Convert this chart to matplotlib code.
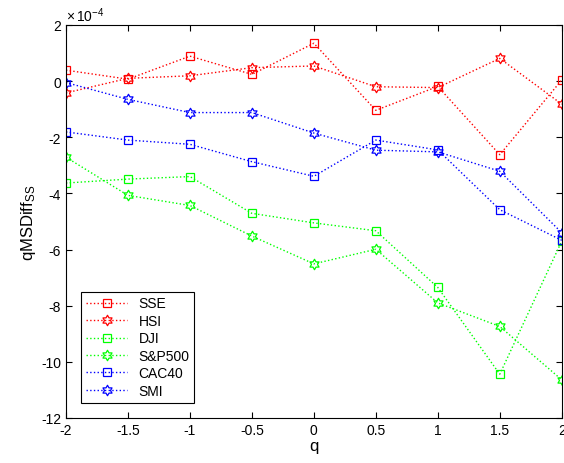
import matplotlib
matplotlib.use("Agg")
import matplotlib.pyplot as plt
import numpy as np
from matplotlib.path import Path

plt.rcParams["font.family"] = ["Liberation Sans", "DejaVu Sans"]
plt.rcParams["mathtext.fontset"] = "custom"
plt.rcParams["mathtext.rm"] = "Liberation Sans"
plt.rcParams["mathtext.it"] = "Liberation Sans"
plt.rcParams["axes.unicode_minus"] = False

q = [-2, -1.5, -1, -0.5, 0, 0.5, 1, 1.5, 2]

# values in units of 1e-4
sse = [0.39, 0.07, 0.89, 0.24, 1.35, -1.04, -0.19, -2.62, 0.04]
hsi = [-0.42, 0.10, 0.19, 0.48, 0.54, -0.20, -0.23, 0.81, -0.82]
dji = [-3.63, -3.49, -3.40, -4.71, -5.05, -5.33, -7.35, -10.44, -5.70]
sp500 = [-2.71, -4.07, -4.43, -5.52, -6.51, -5.99, -7.90, -8.74, -10.64]
cac40 = [-1.81, -2.10, -2.25, -2.87, -3.39, -2.10, -2.45, -4.58, -5.67]
smi = [-0.05, -0.65, -1.12, -1.12, -1.85, -2.46, -2.52, -3.21, -5.40]

# hexagram marker (like matlab 'h')
ang = np.pi / 2 + np.arange(12) * np.pi / 6
rad = np.where(np.arange(12) % 2 == 0, 1.0, 1 / np.sqrt(3))
verts = np.column_stack([rad * np.cos(ang), rad * np.sin(ang)])
verts = np.vstack([verts, verts[:1]])
hexagram = Path(verts, [Path.MOVETO] + [Path.LINETO] * 11 + [Path.CLOSEPOLY])

series = [
    ("SSE", sse, "#ff0000", "s"),
    ("HSI", hsi, "#ff0000", hexagram),
    ("DJI", dji, "#00ff00", "s"),
    ("S&P500", sp500, "#00ff00", hexagram),
    ("CAC40", cac40, "#0000ff", "s"),
    ("SMI", smi, "#0000ff", hexagram),
]

fig = plt.figure(figsize=(5.64, 4.64), dpi=100)
ax = fig.add_axes([0.117, 0.097, 0.879, 0.847])

for name, vals, col, mk in series:
    ms = 5.5 if mk == "s" else 7.5
    ax.plot(q, vals, linestyle=":", linewidth=1.0, color=col,
            marker=mk, markersize=ms, markerfacecolor="none",
            markeredgecolor=col, markeredgewidth=0.9, label=name)

ax.set_xlim(-2, 2)
ax.set_ylim(-12, 2)
ax.set_xticks(q)
ax.set_xticklabels(["-2", "-1.5", "-1", "-0.5", "0", "0.5", "1", "1.5", "2"])
ax.set_yticks(np.arange(-12, 3, 2))
ax.tick_params(direction="in", top=True, right=True, labelsize=10, length=4)
for sp in ax.spines.values():
    sp.set_linewidth(0.8)

ax.text(0.0, 1.003, "$\\times\\,10^{-4}$", transform=ax.transAxes,
        fontsize=10, ha="left", va="bottom")

ax.set_xlabel("q", fontsize=12, labelpad=1)
ax.set_ylabel("qMSDiff$_{\\mathrm{SS}}$", fontsize=12, labelpad=2)

leg = ax.legend(loc="lower left", bbox_to_anchor=(0.03, 0.039), fontsize=10,
                handlelength=3.0, fancybox=False, framealpha=1,
                edgecolor="black", borderaxespad=0, labelspacing=0.25,
                borderpad=0.35)
leg.get_frame().set_linewidth(0.8)

fig.savefig("out.png", dpi=100)
